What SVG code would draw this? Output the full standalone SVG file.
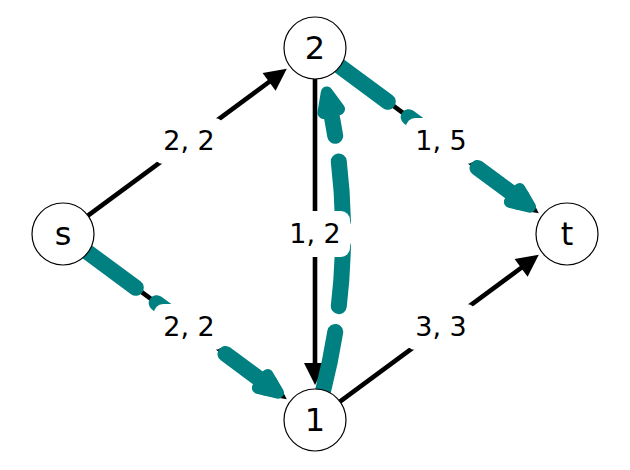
<svg xmlns="http://www.w3.org/2000/svg" width="630" height="470" viewBox="0 0 630 470">
<style>
.e{stroke:#000;stroke-width:4.6;fill:none}
.h{fill:#000;stroke:none}
.f{stroke:#008080;stroke-width:16;fill:none;stroke-linecap:round;stroke-dasharray:59.5 26}
.fh{fill:#008080;stroke:#008080;stroke-width:12;stroke-linejoin:round}
.n{fill:#fff;stroke:#000;stroke-width:1.2}
.nt{font-family:"DejaVu Sans",sans-serif;font-size:32px;text-anchor:middle;fill:#000}
.lb{fill:#fff;stroke:none}
.lt{font-family:"DejaVu Sans",sans-serif;font-size:27px;text-anchor:middle;fill:#000}
</style>
<rect width="630" height="470" fill="#fff"/>
<g id="edges">
<line class="e" x1="87.9" y1="215.6" x2="271" y2="80.5"/>
<polygon class="h" points="286.8,68.8 275.6,90.7 262.6,73.0"/>
<line class="e" x1="315" y1="79" x2="315" y2="366"/>
<polygon class="h" points="315,385 304,363 326,363"/>
<line class="e" x1="87.9" y1="252.4" x2="271" y2="387.5"/>
<polygon class="h" points="286.8,399.2 262.6,394.9 275.6,377.2"/>
<line class="e" x1="339.9" y1="401.6" x2="523" y2="266.5"/>
<polygon class="h" points="538.8,254.8 527.6,276.8 514.6,259.0"/>
<line class="e" x1="339.9" y1="66.4" x2="523" y2="201.5"/>
<polygon class="h" points="538.8,213.2 514.6,208.9 527.6,191.2"/>
</g>
<g id="flow">
<path class="f" d="M87.9,252.4 L266.5,384.2"/>
<polygon class="fh" points="278.0,392.7 257.9,387.9 267.5,375.1"/>
<path class="f" d="M323.2,390.2 Q358.8,249.8 330.6,110.5"/>
<polygon class="fh" points="326.8,92.5 339.0,109.1 323.4,112.9"/>
<path class="f" d="M339.9,66.4 L518.5,198.2"/>
<polygon class="fh" points="530.0,206.7 509.9,201.9 519.5,189.1"/>
</g>
<g id="node-s"><circle class="n" cx="63" cy="234" r="31"/><text class="nt" x="63" y="244.5">s</text></g>
<g id="node-2"><circle class="n" cx="315" cy="48" r="31"/><text class="nt" x="315" y="58.5">2</text></g>
<g id="node-1"><circle class="n" cx="315" cy="420" r="31"/><text class="nt" x="315" y="430.5">1</text></g>
<g id="node-t"><circle class="n" cx="567" cy="234" r="31"/><text class="nt" x="567" y="244.5">t</text></g>
<g id="labels">
<rect class="lb" x="154" y="118" width="70" height="46" rx="9"/>
<text class="lt" x="189" y="150">2, 2</text>
<rect class="lb" x="280" y="211" width="70" height="46" rx="9"/>
<text class="lt" x="315" y="243">1, 2</text>
<rect class="lb" x="154" y="304" width="70" height="46" rx="9"/>
<text class="lt" x="189" y="336">2, 2</text>
<rect class="lb" x="406" y="304" width="70" height="46" rx="9"/>
<text class="lt" x="441" y="336">3, 3</text>
<rect class="lb" x="406" y="118" width="70" height="46" rx="9"/>
<text class="lt" x="441" y="150">1, 5</text>
</g>
</svg>
